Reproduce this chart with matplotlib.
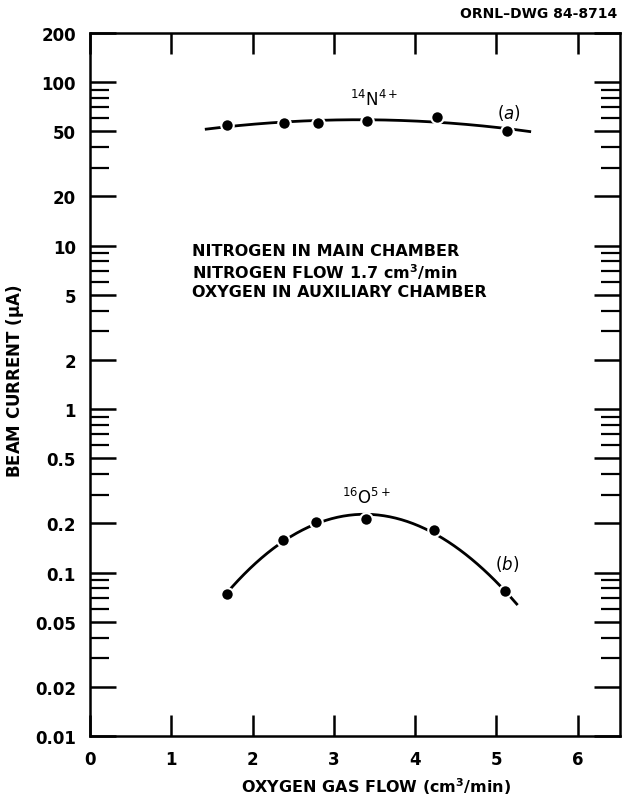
import numpy as np
import matplotlib
matplotlib.use("Agg")
import matplotlib.pyplot as plt
from matplotlib.ticker import FixedLocator, NullFormatter, FixedFormatter

plt.rcParams['font.family'] = ['DejaVu Sans']
plt.rcParams['mathtext.fontset'] = 'dejavusans'

# === data ===
n_flow = [1.69, 2.39, 2.80, 3.41, 4.27, 5.13]
n_current = [54.7, 56.2, 56.5, 57.9, 61.2, 50.3]
n_curve_range = (1.43, 5.41)

o_flow = [1.68, 2.37, 2.78, 3.40, 4.23, 5.10]
o_current = [0.0738, 0.158, 0.203, 0.212, 0.182, 0.0769]
o_curve_range = (1.68, 5.25)

x_ticks = [0, 1, 2, 3, 4, 5, 6]
y_major = [0.01, 0.02, 0.05, 0.1, 0.2, 0.5, 1, 2, 5, 10, 20, 50, 100, 200]
y_labels = ['0.01', '0.02', '0.05', '0.1', '0.2', '0.5', '1', '2', '5', '10', '20', '50', '100', '200']
y_minor = [m * 10.0 ** e for e in range(-2, 2) for m in (3, 4, 6, 7, 8, 9)]

notes = ['NITROGEN IN MAIN CHAMBER',
         'NITROGEN FLOW 1.7 cm$^\\mathbf{3}$/min',
         'OXYGEN IN AUXILIARY CHAMBER']

fig = plt.figure(figsize=(6.22, 8.03), dpi=100)
ax = fig.add_axes([0.1447, 0.0822, 0.852, 0.8755])

# smooth hand-drawn style curves fitted in log space
for xs, ys, (x0, x1), deg in [(n_flow, n_current, n_curve_range, 2),
                               (o_flow, o_current, o_curve_range, 3)]:
    coef = np.polyfit(xs, np.log10(ys), deg)
    xx = np.linspace(x0, x1, 200)
    ax.plot(xx, 10 ** np.polyval(coef, xx), color='black', lw=2.0, zorder=2)
    ax.plot(xs, ys, 'o', color='black', ms=9, mec='white', mew=1.5, zorder=3)

ax.set_yscale('log')
ax.set_xlim(0, 6.52)
ax.set_ylim(0.01, 200)

ax.xaxis.set_major_locator(FixedLocator(x_ticks))
ax.yaxis.set_major_locator(FixedLocator(y_major))
ax.yaxis.set_major_formatter(FixedFormatter(y_labels))
ax.yaxis.set_minor_locator(FixedLocator(y_minor))
ax.yaxis.set_minor_formatter(NullFormatter())

ax.tick_params(axis='y', which='major', direction='in', length=19, width=1.8,
               right=True, labelsize=12, pad=10)
ax.tick_params(axis='y', which='minor', direction='in', length=14, width=1.6, right=True)
ax.tick_params(axis='x', which='major', direction='in', length=15, width=1.8,
               top=True, labelsize=12, pad=10)
for lab in ax.get_xticklabels() + ax.get_yticklabels():
    lab.set_fontweight('bold')

for s in ax.spines.values():
    s.set_linewidth(1.8)

ax.set_xlabel('OXYGEN GAS FLOW (cm$^\\mathbf{3}$/min)', fontsize=11.5, fontweight='bold')
ax.xaxis.set_label_coords(0.54, -0.056)
ax.set_ylabel('BEAM CURRENT ($\\mathbf{\\mu}$A)', fontsize=12, fontweight='bold')
ax.yaxis.set_label_coords(-0.12, 0.506)

ax.text(3.5, 79, '$^{14}$N$^{4+}$', fontsize=12, ha='center', va='center')
ax.text(5.15, 66, '($\\it{a}$)', fontsize=12, ha='center', va='center')
ax.text(3.40, 0.29, '$^{16}$O$^{5+}$', fontsize=12, ha='center', va='center')
ax.text(5.13, 0.115, '($\\it{b}$)', fontsize=12, ha='center', va='center')

for i, line in enumerate(notes):
    ax.text(1.26, 0.690 - 0.029 * i, line, fontsize=11.5, fontweight='bold',
            ha='left', va='center', transform=ax.get_xaxis_transform())

fig.text(0.993, 0.983, 'ORNL\u2013DWG 84-8714', fontsize=10, fontweight='bold',
         ha='right', va='center')

fig.savefig('out.png', dpi=100)
